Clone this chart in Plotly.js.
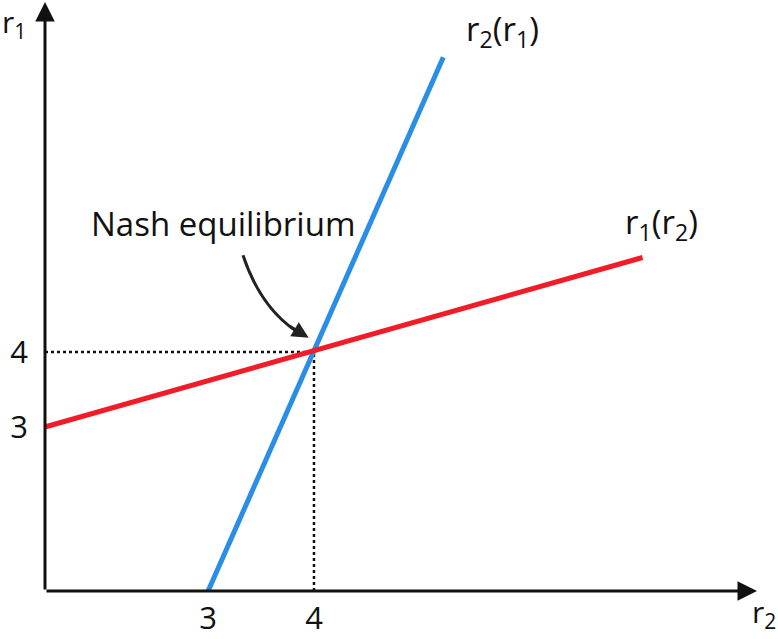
<!DOCTYPE html>
<html>
<head>
<meta charset="utf-8">
<script src="https://cdn.plot.ly/plotly-3.0.1.min.js"></script>
<style>html,body{margin:0;padding:0;background:#fff;}#chart{width:778px;height:639px;}</style>
</head>
<body>
<div id="chart"></div>
<script>
// r1(r2): red best-response line
const redX = [1.46, 7.10];
const redY = [3.0, 5.26];
// r2(r1): blue best-response line
const blueX = [3.0, 5.22];
const blueY = [0.81, 7.93];
// Nash equilibrium point
const nashX = 4;
const nashY = 4;
// tick values / labels
const xTickVals = [3, 4];
const xTickText = ['3', '4'];
const yTickVals = [3, 4];
const yTickText = ['3', '4'];

const X0 = 1.462, X1 = 8.18, Y0 = 0.813, Y1 = 8.667;
const FONT = 'Open Sans, sans-serif';
const FS = 33;

const traces = [
  {x: [X0, nashX], y: [nashY, nashY], mode: 'lines', line: {color: '#111', width: 2.5, dash: 'dot'}, hoverinfo: 'skip'},
  {x: [nashX, nashX], y: [Y0, nashY], mode: 'lines', line: {color: '#111', width: 2.5, dash: 'dot'}, hoverinfo: 'skip'},
  {x: blueX, y: blueY, mode: 'lines', line: {color: '#2a8de6', width: 5}, hoverinfo: 'skip'},
  {x: redX, y: redY, mode: 'lines', line: {color: '#f01c28', width: 5}, hoverinfo: 'skip'}
];

const layout = {
  width: 778, height: 639,
  margin: {l: 45, r: 21, t: 2, b: 48},
  paper_bgcolor: '#fff', plot_bgcolor: '#fff',
  showlegend: false,
  font: {family: FONT, color: '#111', size: FS},
  xaxis: {range: [X0, X1], showgrid: false, zeroline: false, showline: false,
    tickmode: 'array', tickvals: xTickVals, ticktext: xTickText, ticks: '',
    ticklabelstandoff: 6, tickfont: {size: 31, family: FONT, color: '#111'}},
  yaxis: {range: [Y0, Y1], showgrid: false, zeroline: false, showline: false,
    tickmode: 'array', tickvals: yTickVals, ticktext: yTickText, ticks: '',
    ticklabelstandoff: 16, tickfont: {size: 31, family: FONT, color: '#111'}},
  shapes: [
    {type: 'path', xref: 'x', yref: 'y',
     path: 'M 3.33,5.29 Q 3.51,4.53 3.90,4.22',
     line: {color: '#222', width: 3}}
  ],
  annotations: [
    // axes with arrowheads
    {xref: 'paper', yref: 'paper', x: 0, y: 1.0, ax: 0, ay: 0, axref: 'paper', ayref: 'paper',
     showarrow: true, arrowhead: 2, arrowsize: 1.3, arrowwidth: 3, arrowcolor: '#111', text: '', standoff: 0},
    {xref: 'paper', yref: 'paper', x: 1.0, y: 0, ax: 0, ay: 0, axref: 'paper', ayref: 'paper',
     showarrow: true, arrowhead: 2, arrowsize: 1.3, arrowwidth: 3, arrowcolor: '#111', text: '', standoff: 0},
    // axis labels
    {xref: 'paper', yref: 'paper', x: -0.063, y: 1.005, xanchor: 'left', yanchor: 'top',
     text: 'r<sub>1</sub>', showarrow: false, font: {size: 30, family: FONT}},
    {xref: 'paper', yref: 'paper', x: 1.029, y: -0.078, xanchor: 'right', yanchor: 'bottom',
     text: 'r<sub>2</sub>', showarrow: false, font: {size: 30, family: FONT}},
    // curve labels
    {xref: 'x', yref: 'y', x: 5.774, y: 8.29, text: 'r<sub>2</sub>(r<sub>1</sub>)', showarrow: false, font: {size: FS, family: FONT}},
    {xref: 'x', yref: 'y', x: 7.283, y: 5.707, text: 'r<sub>1</sub>(r<sub>2</sub>)', showarrow: false, font: {size: FS, family: FONT}},
    {xref: 'x', yref: 'y', x: 3.14, y: 5.72, text: 'Nash equilibrium', showarrow: false, font: {size: FS, family: FONT}},
    // arrowhead of curved arrow
    {xref: 'x', yref: 'y', x: 3.95, y: 4.19, ax: -20, ay: -12, showarrow: true, arrowhead: 2, arrowsize: 1.1,
     arrowwidth: 3, arrowcolor: '#222', text: '', standoff: 0}
  ]
};

Plotly.newPlot('chart', traces, layout, {staticPlot: true, displayModeBar: false});
</script>
</body>
</html>
